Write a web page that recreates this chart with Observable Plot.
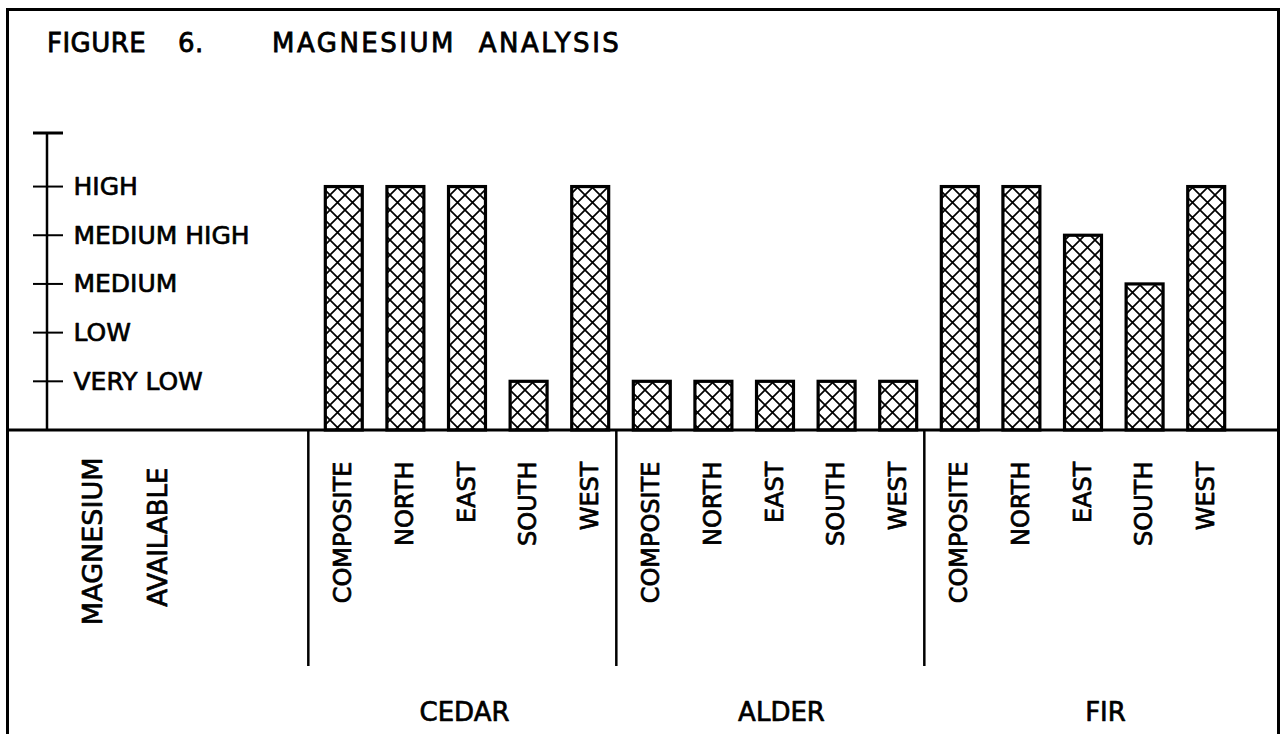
<!DOCTYPE html>
<html>
<head>
<meta charset="utf-8">
<script src="https://cdn.jsdelivr.net/npm/d3@7"></script>
<script src="https://cdn.jsdelivr.net/npm/@observablehq/plot@0.6"></script>
<style>
  html, body { margin: 0; padding: 0; background: #fff; overflow: hidden; }
  #wrap { position: relative; width: 1285px; height: 734px; overflow: hidden; background: #fff; }
  #border { position: absolute; left: 6px; top: 8px; width: 1268px; height: 760px;
            border: 3px solid #000; border-bottom: none; }
  .ttl { position: absolute; top: 30px; font-family: "DejaVu Sans", sans-serif; font-size: 26px;
         line-height: 26px; color: #000; white-space: pre; -webkit-text-stroke: 0.8px #000; }
  #chart { position: absolute; left: 0; top: 0; }
</style>
</head>
<body>
<div id="wrap">
  <div id="border"></div>
  <div id="chart"></div>
</div>
<script>
// ---- data ----
const titleParts = ["FIGURE", "6.", "MAGNESIUM ANALYSIS"];
const species = ["CEDAR", "ALDER", "FIR"];
const aspects = ["COMPOSITE", "NORTH", "EAST", "SOUTH", "WEST"];
const levelLabels = ["VERY LOW", "LOW", "MEDIUM", "MEDIUM HIGH", "HIGH"];
const levelValues = [1, 2, 3, 4, 5];
const cedarLevels = ["HIGH", "HIGH", "HIGH", "VERY LOW", "HIGH"];
const alderLevels = ["VERY LOW", "VERY LOW", "VERY LOW", "VERY LOW", "VERY LOW"];
const firLevels = ["HIGH", "HIGH", "MEDIUM HIGH", "MEDIUM", "HIGH"];
const sideLabels = ["MAGNESIUM", "AVAILABLE"];

// ---- build tables ----
const levelOf = Object.fromEntries(levelLabels.map((l, i) => [l, levelValues[i]]));
const seriesBySpecies = {CEDAR: cedarLevels, ALDER: alderLevels, FIR: firLevels};
const rows = [];
for (const sp of species) {
  aspects.forEach((a, i) => rows.push({species: sp, aspect: a, key: sp + "|" + a,
                                       value: levelOf[seriesBySpecies[sp][i]]}));
}
const keys = rows.map(d => d.key);
const levels = levelLabels.map((l, i) => ({label: l, value: levelValues[i]}));
const yMax = 6.1;

// title
const titleLeft = [47, 178, 272];
titleParts.forEach((t, i) => {
  const s = document.createElement("div");
  s.className = "ttl";
  s.textContent = t;
  s.style.left = titleLeft[i] + "px";
  if (i === 2) { s.style.letterSpacing = "2.5px"; s.style.wordSpacing = "12px"; }
  else s.style.letterSpacing = "0.5px";
  document.getElementById("wrap").appendChild(s);
});

// structural lines drawn from the scales
function structure(index, scales, values, dims) {
  const {x, y} = scales;
  const g = d3.create("svg:g").attr("stroke", "#000").attr("fill", "none");
  const y0 = y(0), yT = y(yMax);
  const axisX = 47;
  g.append("line").attr("x1", 7).attr("x2", 1279).attr("y1", y0).attr("y2", y0).attr("stroke-width", 3);
  g.append("line").attr("x1", axisX).attr("x2", axisX).attr("y1", yT).attr("y2", y0).attr("stroke-width", 2.5);
  g.append("line").attr("x1", axisX - 14).attr("x2", axisX + 16).attr("y1", yT).attr("y2", yT).attr("stroke-width", 3);
  for (const l of levels) {
    const yy = y(l.value);
    g.append("line").attr("x1", axisX - 14).attr("x2", axisX + 16).attr("y1", yy).attr("y2", yy).attr("stroke-width", 2);
  }
  for (const sp of species) {
    const xs = x(sp + "|" + aspects[0]) - 17;
    g.append("line").attr("x1", xs).attr("x2", xs).attr("y1", y0).attr("y2", y0 + 236).attr("stroke-width", 2.5);
  }
  return g.node();
}

const txt = {fill: "#000", stroke: "#000", strokeWidth: 0.7};
const speciesDx = [-3, 6, 22];

const chart = Plot.plot({
  width: 1285,
  height: 734,
  marginTop: 133,
  marginBottom: 304,
  marginLeft: 313,
  marginRight: 48,
  x: {type: "band", domain: keys, paddingInner: 0.4, paddingOuter: 0.2, round: false, axis: null},
  y: {domain: [0, yMax], axis: null},
  style: {background: "transparent", fontFamily: "DejaVu Sans, sans-serif", color: "#000", overflow: "visible"},
  marks: [
    Plot.barY(rows, {x: "key", y: "value", fill: "url(#hatch)", stroke: "#000", strokeWidth: 3.2}),
    structure,
    Plot.text(levels, {y: "value", text: "label", frameAnchor: "left", dx: -240, textAnchor: "start",
                       fontSize: 25, ...txt}),
    Plot.text(rows, {x: "key", text: "aspect", frameAnchor: "bottom", dx: 7, dy: 31, rotate: -90,
                     textAnchor: "end", fontSize: 24, ...txt}),
    ...species.map((sp, i) => Plot.text([sp], {x: d => d + "|" + aspects[2], text: d => d,
                        frameAnchor: "bottom", dy: 290, dx: speciesDx[i], fontSize: 26, ...txt})),
    Plot.text([sideLabels[0]], {text: d => d, frameAnchor: "bottom-left", dx: -212, dy: 27, rotate: -90,
                                textAnchor: "end", fontSize: 27, ...txt}),
    Plot.text([sideLabels[1]], {text: d => d, frameAnchor: "bottom-left", dx: -147, dy: 37, rotate: -90,
                                textAnchor: "end", fontSize: 26, ...txt})
  ]
});

chart.insertAdjacentHTML("afterbegin",
  '<defs><pattern id="hatch" patternUnits="userSpaceOnUse" width="15" height="15">' +
  '<rect width="15" height="15" fill="#fff"/>' +
  '<path d="M0,0L15,15M15,0L0,15" stroke="#000" stroke-width="1.7"/></pattern></defs>');
document.getElementById("chart").appendChild(chart);
</script>
</body>
</html>
